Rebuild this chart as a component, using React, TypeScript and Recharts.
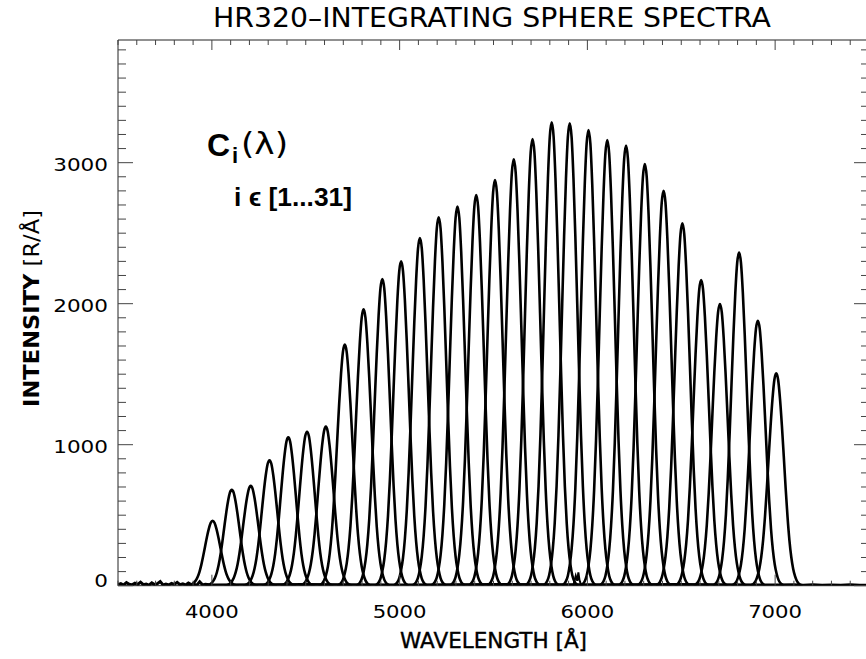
import React from 'react';
import { LineChart, Line, XAxis, YAxis } from 'recharts';

// ---- data ----
const PEAK_CENTERS = [
  4004, 4106, 4207, 4307, 4407, 4507, 4607, 4708, 4808, 4908, 5008,
  5108, 5208, 5308, 5408, 5508, 5608, 5708, 5810, 5906, 6006, 6106,
  6206, 6306, 6406, 6506, 6606, 6706, 6808, 6908, 7006,
];
const PEAK_HEIGHTS = [
  460, 680, 708, 890, 1052, 1092, 1128, 1710, 1960, 2175, 2300,
  2466, 2612, 2688, 2771, 2877, 3024, 3168, 3286, 3279, 3232, 3161,
  3121, 2991, 2801, 2570, 2168, 1998, 2362, 1879, 1506,
];
// normalised filter profile, read from the isolated last peak
const PROFILE_OFFSETS = [
  -140, -130, -120, -110, -100, -90, -80, -70, -60, -50, -40, -30, -20, -10, 0,
  10, 20, 30, 40, 50, 60, 70, 80, 90, 100, 110, 120, 130, 140,
];
const PROFILE_LEVELS = [
  0, 0.004, 0.01, 0.022, 0.045, 0.08, 0.135, 0.215, 0.325, 0.46, 0.61, 0.755, 0.88, 0.97, 1,
  0.97, 0.88, 0.755, 0.61, 0.46, 0.325, 0.215, 0.135, 0.08, 0.045, 0.022, 0.01, 0.004, 0,
];
// noisy continuum floor
const BASE_X = [
  3500, 3515, 3530, 3545, 3560, 3575, 3590, 3605, 3620, 3635, 3650, 3665, 3680, 3695,
  3710, 3725, 3740, 3755, 3770, 3785, 3800, 3815, 3830, 3845, 3860, 3875, 3890, 3905,
  3920, 3935, 3950, 3965, 4000, 4500, 5000, 5500, 6000, 6500, 7000, 7100, 7150, 7200,
  7250, 7300, 7350, 7400, 7450, 7500,
];
const BASE_Y = [
  8, 15, 5, 22, 10, 6, 18, 9, 25, 7, 12, 4, 20, 8,
  14, 30, 6, 11, 5, 17, 9, 24, 7, 13, 5, 19, 8, 10,
  4, 28, 6, 10, 5, 8, 5, 8, 6, 8, 5, 6, 4, 6,
  3, 5, 4, 6, 3, 4,
];
// small glitch near 5950 A
const GLITCH_X = [5925, 5938, 5946, 5952, 5958, 5968];
const GLITCH_Y = [0, 70, 35, 95, 40, 0];

const X_LABELS = [4000, 5000, 6000, 7000];
const Y_LABELS = [0, 1000, 2000, 3000];
const X_DOMAIN: [number, number] = [3500, 7500];
const Y_DOMAIN: [number, number] = [0, 3870];

const X_TICKS: number[] = [];
for (let v = X_DOMAIN[0]; v <= X_DOMAIN[1]; v += 100) X_TICKS.push(v);
const Y_TICKS: number[] = [];
for (let v = 0; v <= 3800; v += 100) Y_TICKS.push(v);

const peakSeries = PEAK_CENTERS.map((c, i) =>
  PROFILE_OFFSETS.map((o, k) => ({ x: c + o, y: PEAK_HEIGHTS[i] * PROFILE_LEVELS[k] }))
);
const baseSeries = BASE_X.map((x, i) => ({ x, y: BASE_Y[i] }));
const glitchSeries = GLITCH_X.map((x, i) => ({ x, y: GLITCH_Y[i] }));

const FONT = "'DejaVu Sans', sans-serif";
const TICK_COLOR = '#444';

const BottomTick = (p: any) => {
  const v = p.payload.value;
  const major = v % 1000 === 0;
  return (
    <g>
      <line x1={p.x} x2={p.x} y1={p.y} y2={p.y - (major ? 11 : 5)} stroke={TICK_COLOR} strokeWidth={1} />
      {X_LABELS.includes(v) && (
        <text x={p.x} y={p.y + 32.5} textAnchor="middle" fontFamily={FONT} fontSize={18.5}
          textLength={54} lengthAdjust="spacingAndGlyphs" fill="#000">{v}</text>
      )}
    </g>
  );
};
const TopTick = (p: any) => {
  const v = p.payload.value;
  const major = v % 1000 === 0;
  return <line x1={p.x} x2={p.x} y1={p.y} y2={p.y + (major ? 10 : 5)} stroke={TICK_COLOR} strokeWidth={1} />;
};
const LeftTick = (p: any) => {
  const v = p.payload.value;
  const major = v % 1000 === 0;
  const s = String(v);
  return (
    <g>
      <line x1={p.x} x2={p.x + (major ? 15 : 8)} y1={p.y} y2={p.y} stroke={TICK_COLOR} strokeWidth={1} />
      {Y_LABELS.includes(v) && (
        <text x={p.x - 10} y={v === 0 ? p.y + 1 : p.y + 8} textAnchor="end" fontFamily={FONT} fontSize={18.5}
          textLength={s.length * 13.7} lengthAdjust="spacingAndGlyphs" fill="#000">{s}</text>
      )}
    </g>
  );
};
const RightTick = (p: any) => {
  const v = p.payload.value;
  const major = v % 1000 === 0;
  return <line x1={p.x} x2={p.x - (major ? 15 : 8)} y1={p.y} y2={p.y} stroke={TICK_COLOR} strokeWidth={1} />;
};

export default function App() {
  return (
    <div style={{ position: 'absolute', left: 0, top: 0, width: 866, height: 659, overflow: 'hidden', background: '#fff' }}>
      <LineChart width={900} height={659} margin={{ top: 0, right: 0, bottom: 0, left: 0 }}>
        <XAxis xAxisId="b" orientation="bottom" type="number" dataKey="x" domain={X_DOMAIN} allowDataOverflow
          ticks={X_TICKS} interval={0} height={73.3} tickSize={0} tickMargin={0} tick={BottomTick} tickLine={false}
          axisLine={{ stroke: '#222', strokeWidth: 1 }} />
        <XAxis xAxisId="t" orientation="top" type="number" dataKey="x" domain={X_DOMAIN} allowDataOverflow
          ticks={X_TICKS} interval={0} height={40} tickSize={0} tickMargin={0} tick={TopTick} tickLine={false}
          axisLine={{ stroke: '#222', strokeWidth: 1 }} />
        <YAxis yAxisId="l" orientation="left" type="number" domain={Y_DOMAIN} allowDataOverflow
          ticks={Y_TICKS} interval={0} width={118} tickSize={0} tickMargin={0} tick={LeftTick} tickLine={false}
          axisLine={{ stroke: '#222', strokeWidth: 1 }} />
        <YAxis yAxisId="r" orientation="right" type="number" domain={Y_DOMAIN} allowDataOverflow
          ticks={Y_TICKS} interval={0} width={31} tickSize={0} tickMargin={0} tick={RightTick} tickLine={false}
          axisLine={{ stroke: '#222', strokeWidth: 1 }} />
        <Line xAxisId="b" yAxisId="l" data={baseSeries} dataKey="y" type="linear" dot={false}
          stroke="#000" strokeWidth={3} isAnimationActive={false} />
        <Line xAxisId="b" yAxisId="l" data={glitchSeries} dataKey="y" type="linear" dot={false}
          stroke="#000" strokeWidth={2} isAnimationActive={false} />
        {peakSeries.map((s, i) => (
          <Line key={i} xAxisId="b" yAxisId="l" data={s} dataKey="y" type="monotone" dot={false}
            stroke="#000" strokeWidth={2.6} isAnimationActive={false} />
        ))}
      </LineChart>
      <svg width={866} height={659} style={{ position: 'absolute', left: 0, top: 0, pointerEvents: 'none' }}>
        <text x={492} y={26.5} textAnchor="middle" fontFamily={FONT} fontSize={26}
          textLength={558} lengthAdjust="spacingAndGlyphs" fill="#000">HR320–INTEGRATING SPHERE SPECTRA</text>
        <text x={493.5} y={648} textAnchor="middle" fontFamily={FONT} fontSize={22}
          textLength={187} lengthAdjust="spacingAndGlyphs" fill="#000" stroke="#000" strokeWidth={0.4}>WAVELENGTH [Å]</text>
        <text transform="translate(39,308.5) rotate(-90)" textAnchor="middle" fontFamily={FONT} fontSize={22}
          textLength={197} lengthAdjust="spacingAndGlyphs" fill="#000">
          <tspan fontWeight="bold">INTENSITY</tspan> [R/Å]
        </text>
        <text x={207} y={156} fontFamily="'Liberation Sans', Arial, sans-serif" fontWeight="bold" fontSize={32} fill="#000">C</text>
        <text x={232} y={163} fontFamily="'Liberation Sans', Arial, sans-serif" fontWeight="bold" fontSize={22} fill="#000">i</text>
        <text x={241} y={154} fontFamily={FONT} fontSize={31} textLength={47} lengthAdjust="spacingAndGlyphs" fill="#000">(λ)</text>
        <text x={234} y={206} fontFamily="'Liberation Sans', Arial, sans-serif" fontWeight="bold" fontSize={25}
          textLength={118} lengthAdjust="spacingAndGlyphs" fill="#000">i ϵ [1...31]</text>
      </svg>
    </div>
  );
}
